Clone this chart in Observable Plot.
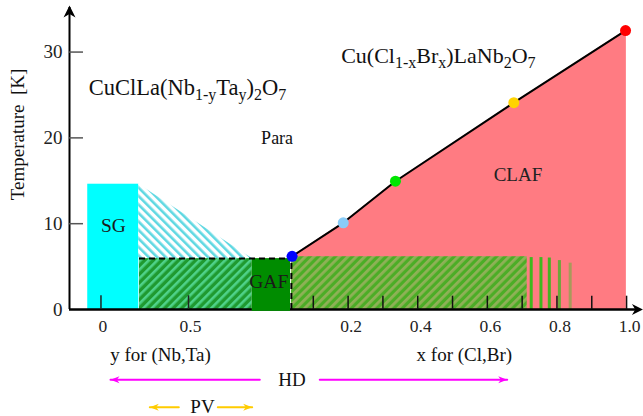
<!DOCTYPE html>
<html><head><meta charset="utf-8">
<script src="https://cdn.jsdelivr.net/npm/d3@7"></script>
<script src="https://cdn.jsdelivr.net/npm/@observablehq/plot@0.6"></script>
<style>body{margin:0;background:#fff}</style>
</head><body><div id="chart"></div>
<script>
// ---- data (horizontal unit: composite axis, right part = x for (Cl,Br)) ----
const yTickValues = [0, 10, 20, 30];
const leftTickValues = [0, 0.5];          // y for (Nb,Ta)
const leftTickLabels = ["0", "0.5"];
const rightTickValues = [0.1, 0.2, 0.3, 0.4, 0.5, 0.6, 0.7, 0.8, 0.9, 1.0];
const rightLabelValues = [0.2, 0.4, 0.6, 0.8, 1.0];
const rightLabelTexts = ["0.2", "0.4", "0.6", "0.8", "1.0"];
const yPos = y => -0.51 + 0.503 * y;      // (Nb,Ta) axis placed on the left half

// transition temperatures along the CLAF boundary
const tcX = [0.039, 0.186, 0.336, 0.676, 0.997];
const tcT = [6.2, 10.1, 14.95, 24.1, 32.5];
const tcColors = ["#0000ff", "#88ccf8", "#00e600", "#ffd400", "#ff0000"];
const clafEdgeX = 0.9994, clafEdgeT = 32.55;

// phase regions
const sgX = [-0.548, -0.4013], sgT = [0, 14.6];
const cyanHatchX = [-0.4013, -0.0756], cyanHatchTop = [14.6, 5.93], cyanHatchBase = 5.93;
const greenLeftX = [-0.3993, -0.0756], greenLeftT = [0, 5.93];
const gafX = [-0.0756, 0.0345], gafT = [-0.22, 5.93];
const greenRightX = [0.037, 0.7145], greenRightT = [0, 6.15];
const stripeX = [0.726, 0.754, 0.778, 0.807, 0.838];
const stripeTop = [6.05, 6.05, 6.0, 5.7, 5.4];
const stripeColors = ["#3fb81e", "#3fb81e", "#44b222", "#6aa83a", "#a89a5a"];
const dashX = [-0.3993, 0.037], dashT = 5.93;

// annotation arrows [start, tip]
const hdLeft = [-0.0537, -0.4826], hdRight = [0.1186, 0.657], hdT = -8.19;
const pvLeft = [-0.2864, -0.3697], pvRight = [-0.1744, -0.0756], pvT = -11.39;

// labels
const labelTexts = ["Para", "CLAF", "SG", "GAF", "HD", "PV", "y for (Nb,Ta)", "x for (Cl,Br)"];
const labelX = [-0.004, 0.688, -0.474, -0.028, 0.0388, -0.2183, -0.339, 0.534];
const labelT = [20.0, 15.73, 9.79, 3.18, -8.19, -11.39, -5.24, -5.24];
const labelSizes = [18, 19, 19.5, 19.5, 19, 19, 19, 19];
const labelColors = ["#111", "#222", "#1a1a1a", "#1a1a1a", "#111", "#111", "#111", "#111"];
const yAxisLabel = "Temperature\u00a0\u00a0[K]";

const title1 = [["CuClLa(Nb", 0], ["1-y", 1], ["Ta", 0], ["y", 1], [")", 0], ["2", 1], ["O", 0], ["7", 1]];
const title2 = [["Cu(Cl", 0], ["1-x", 1], ["Br", 0], ["x", 1], [")LaNb", 0], ["2", 1], ["O", 0], ["7", 1]];
const title1X = -0.545, title1T = 25.87;
const title2X = 0.180, title2T = 29.55;

// ---- helpers ----
const X0 = -0.6004, X1 = 1.0486, YTOP = 36.01;
function arrowSym(dir, L, W) {
  return {draw(ctx) {
    const pts = {
      up: [[0,0],[W/2,L],[0,0.7*L],[-W/2,L]],
      right: [[0,0],[-L,W/2],[-0.7*L,0],[-L,-W/2]],
      left: [[0,0],[L,-W/2],[0.7*L,0],[L,W/2]]
    }[dir];
    ctx.moveTo(...pts[0]); for (const p of pts.slice(1)) ctx.lineTo(...p); ctx.closePath();
  }};
}
const FONT = "Liberation Serif";
const idx = a => a.map((_, i) => i);

const svg = Plot.plot({
  width: 643, height: 416,
  marginLeft: 69, marginRight: 0, marginTop: 0, marginBottom: 107,
  x: {domain: [X0, X1], axis: null},
  y: {domain: [0, YTOP], axis: null},
  color: {type: "identity"},
  style: {fontFamily: FONT, background: "white"},
  marks: [
    // CLAF (pink)
    Plot.areaY([...idx(tcX), tcX.length], {x: i => i < tcX.length ? tcX[i] : clafEdgeX, y1: 0, y2: i => i < tcT.length ? tcT[i] : clafEdgeT, fill: "#ff7b82"}),
    // right green hatch
    Plot.rect([0], {x1: () => greenRightX[0], x2: () => greenRightX[1], y1: () => greenRightT[0], y2: () => greenRightT[1], fill: "url(#greenRight)"}),
    Plot.ruleX(idx(stripeX), {x: i => stripeX[i], y1: 0, y2: i => stripeTop[i], stroke: i => stripeColors[i], strokeWidth: 3}),
    // SG cyan
    Plot.rect([0], {x1: () => sgX[0], x2: () => sgX[1], y1: () => sgT[0], y2: () => sgT[1], fill: "#00ffff"}),
    // cyan hatched
    Plot.areaY(idx(cyanHatchX), {x: i => cyanHatchX[i], y1: cyanHatchBase, y2: i => cyanHatchTop[i], fill: "url(#cyanHatch)"}),
    // green hatched left
    Plot.rect([0], {x1: () => greenLeftX[0], x2: () => greenLeftX[1], y1: () => greenLeftT[0], y2: () => greenLeftT[1], fill: "url(#greenLeft)"}),
    // axes lines
    Plot.ruleY([0], {y: 0, x1: X0, x2: 1.04, stroke: "#000", strokeWidth: 2.5}),
    Plot.ruleX([0], {x: X0, y1: 0, y2: 35.2, stroke: "#000", strokeWidth: 2}),
    Plot.dot([0], {x: 1.047, y: 0, symbol: arrowSym("right", 11, 11), r: 5, fill: "#000", stroke: null}),
    Plot.dot([0], {x: X0, y: 35.43, symbol: arrowSym("up", 12, 12), r: 5, fill: "#000", stroke: null}),
    // GAF
    Plot.rect([0], {x1: () => gafX[0], x2: () => gafX[1], y1: () => gafT[0], y2: () => gafT[1], fill: "#008c00"}),
    // ticks
    Plot.ruleY(yTickValues.slice(1), {y: d => d, x1: X0, x2: -0.5602, stroke: "#555", strokeWidth: 1.5}),
    Plot.ruleX(leftTickValues, {x: d => yPos(d), y1: 0, y2: 1.6, stroke: "#222", strokeWidth: 1.5}),
    Plot.ruleX(rightTickValues, {x: d => d, y1: 0, y2: 1.55, stroke: "#111", strokeWidth: 1.5}),
    // dashed boundary
    Plot.ruleY([0], {y: dashT, x1: dashX[0], x2: dashX[1], stroke: "#000", strokeWidth: 2, strokeDasharray: "6,4"}),
    Plot.ruleX([0], {x: dashX[1], y1: 0, y2: dashT, stroke: "#000", strokeWidth: 2, strokeDasharray: "6,4"}),
    // Tc line and points
    Plot.line(idx(tcX), {x: i => tcX[i], y: i => tcT[i], stroke: "#000", strokeWidth: 2}),
    Plot.dot(idx(tcX), {x: i => tcX[i], y: i => tcT[i], r: 5.5, fill: i => tcColors[i], stroke: null}),
    // tick labels
    Plot.text(yTickValues, {x: X0, y: d => d, text: d => String(d), dx: -7, textAnchor: "end", fontSize: 19, fontFamily: FONT, fill: "#222"}),
    Plot.text(idx(leftTickValues), {x: i => yPos(leftTickValues[i]), y: -1.98, text: i => leftTickLabels[i], dx: 2, fontSize: 17.5, fontFamily: FONT, fill: "#222"}),
    Plot.text(idx(rightLabelValues), {x: i => rightLabelValues[i], y: -1.98, text: i => rightLabelTexts[i], dx: 3, fontSize: 17.5, fontFamily: FONT, fill: "#222"}),
    // y axis label
    Plot.text([yAxisLabel], {x: -0.7498, y: 20.4, text: d => d, rotate: -90, fontSize: 19, fontFamily: FONT, fill: "#111"}),
    // region & axis labels
    Plot.text(idx(labelTexts), {x: i => labelX[i], y: i => labelT[i], text: i => labelTexts[i], fontSize: i => labelSizes[i], fill: i => labelColors[i], fontFamily: FONT}),
    // titles (subscripts applied after render)
    Plot.text([title1.map(p => p[0]).join("")], {x: title1X, y: title1T, text: d => d, textAnchor: "start", fontSize: 22.5, fontFamily: FONT, fill: "#111"}),
    Plot.text([title2.map(p => p[0]).join("")], {x: title2X, y: title2T, text: d => d, textAnchor: "start", fontSize: 22, fontFamily: FONT, fill: "#111"}),
    // HD / PV arrows
    Plot.line(hdLeft, {x: d => d, y: hdT, stroke: "#ff00ff", strokeWidth: 2}),
    Plot.line(hdRight, {x: d => d, y: hdT, stroke: "#ff00ff", strokeWidth: 2}),
    Plot.dot([hdLeft[1]], {x: d => d, y: hdT, symbol: arrowSym("left", 9, 7), r: 4, fill: "#ff00ff", stroke: null}),
    Plot.dot([hdRight[1]], {x: d => d, y: hdT, symbol: arrowSym("right", 9, 7), r: 4, fill: "#ff00ff", stroke: null}),
    Plot.line(pvLeft, {x: d => d, y: pvT, stroke: "#ffcc00", strokeWidth: 2}),
    Plot.line(pvRight, {x: d => d, y: pvT, stroke: "#ffcc00", strokeWidth: 2}),
    Plot.dot([pvLeft[1]], {x: d => d, y: pvT, symbol: arrowSym("left", 9, 7), r: 4, fill: "#ffcc00", stroke: null}),
    Plot.dot([pvRight[1]], {x: d => d, y: pvT, symbol: arrowSym("right", 9, 7), r: 4, fill: "#ffcc00", stroke: null})
  ]
});

// patterns
const defs = d3.select(svg).insert("defs", ":first-child");
function hatch(id, bg, fg, angle, period, w) {
  const p = defs.append("pattern").attr("id", id).attr("patternUnits", "userSpaceOnUse")
    .attr("width", period).attr("height", period).attr("patternTransform", `rotate(${angle})`);
  p.append("rect").attr("width", period).attr("height", period).attr("fill", bg);
  p.append("rect").attr("width", w).attr("height", period).attr("fill", fg);
}
hatch("cyanHatch", "#ffffff", "#5fd8e2", -45, 6, 2.6);
hatch("greenLeft", "#1f9a30", "#4fd28a", 45, 6, 2.6);
hatch("greenRight", "#4cad26", "#8fb157", 45, 6, 2.8);

// subscripts
function applySubs(plain, parts) {
  d3.select(svg).selectAll("text").filter(function () { return this.textContent === plain; }).each(function () {
    const t = d3.select(this); t.text(null);
    let shift = 0;
    for (const [s, sub] of parts) {
      const target = sub ? 5 : 0;
      t.append("tspan").attr("dy", target - shift).attr("font-size", sub ? 16 : null).text(s);
      shift = target;
    }
  });
}
applySubs(title1.map(p => p[0]).join(""), title1);
applySubs(title2.map(p => p[0]).join(""), title2);

document.getElementById("chart").appendChild(svg);
</script>
</body></html>
